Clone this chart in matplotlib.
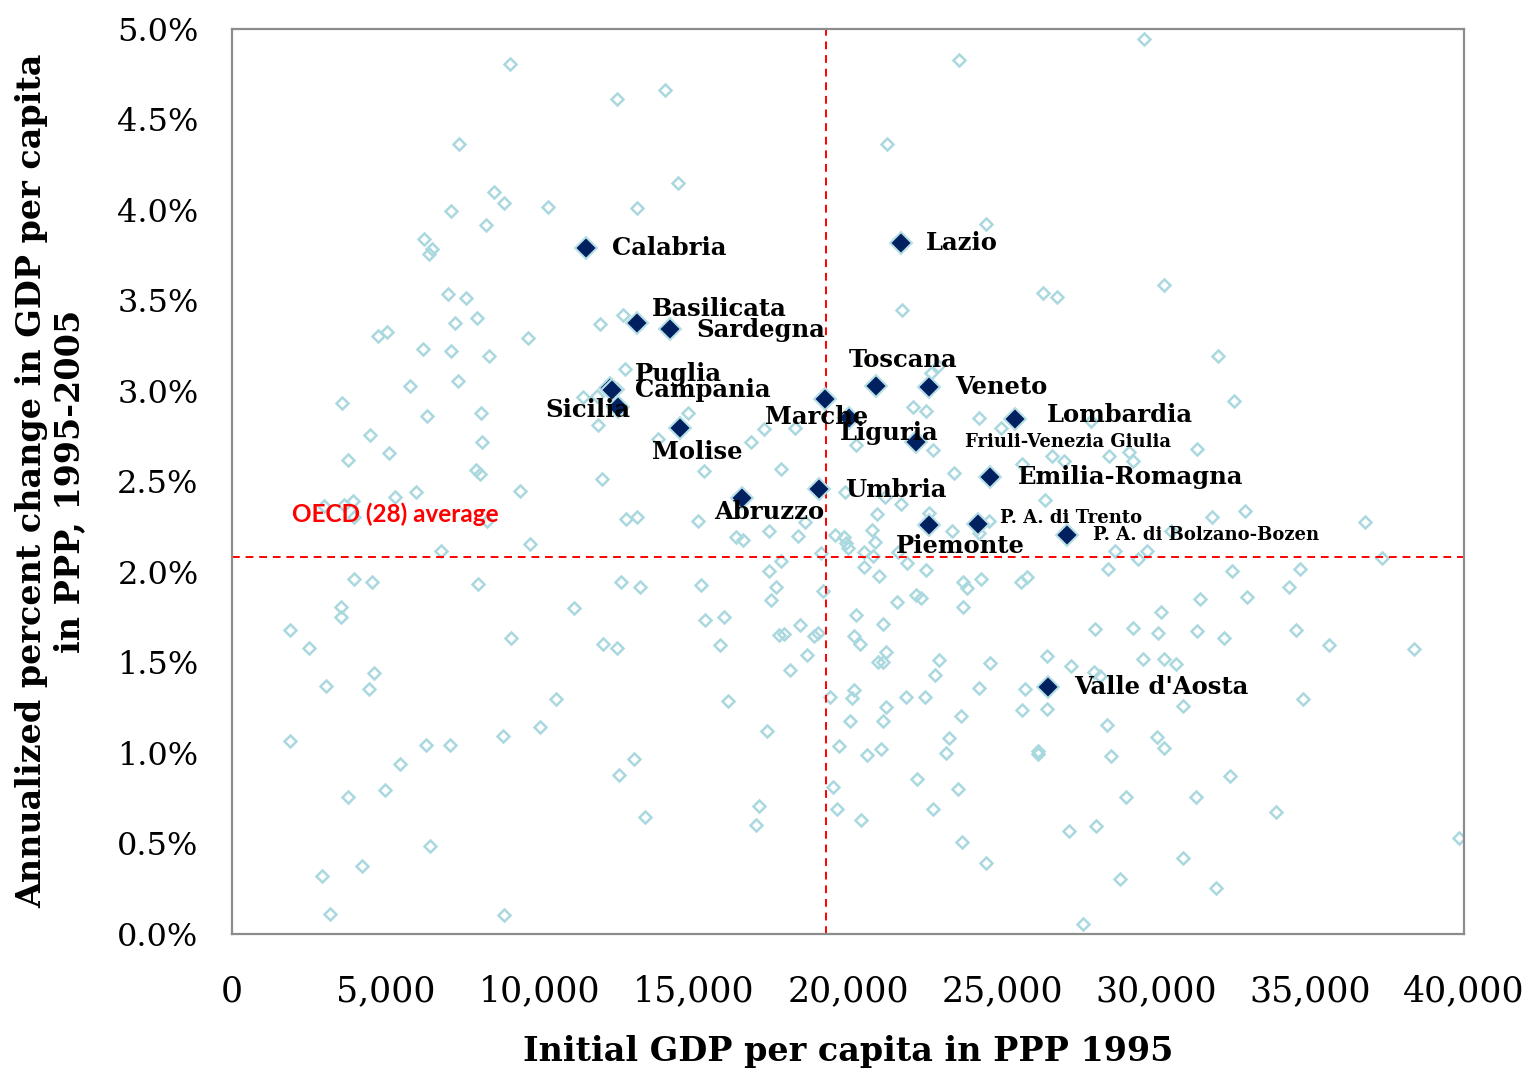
import matplotlib
matplotlib.use("Agg")
import matplotlib.pyplot as plt
from matplotlib.ticker import PercentFormatter, StrMethodFormatter

# OECD TL2 regions: initial GDP per capita (PPP, 1995) vs annual growth 1995-2005 (%)
oecd_gdp = [
    29610, 23610, 9030, 14060, 12500, 21270, 7370, 14480, 8510, 8830,
    10260, 13150, 24480, 7110, 8250, 6230, 6490, 6400, 7010, 7600,
    7240, 7960, 11950, 12700, 4740, 5030, 9610, 21760, 26330, 26790,
    30260, 6200, 7110, 8350, 12760, 5780, 7340, 11400, 11850, 12500,
    3570, 6330, 8090, 11880, 4480, 8120, 5100, 3770, 7920, 8050,
    12010, 9350, 5970, 5290, 3930, 3640, 2990, 3960, 12790, 13150,
    8280, 9680, 6790, 3960, 4550, 7990, 12630, 13250, 3540, 3540,
    11100, 1880, 9060, 22700, 22920, 22110, 22530, 24260, 24970, 14810,
    17270, 18280, 16850, 13830, 20260, 22760, 15330, 17830, 23440, 25650,
    26630, 19900, 21200, 21720, 26400, 20940, 22630, 24580, 24260, 15130,
    18610, 23380, 17440, 16370, 16590, 18380, 19580, 19870, 19940, 20000,
    20780, 20880, 20520, 20810, 21630, 19130, 17830, 17440, 20520, 21920,
    22530, 21010, 24320, 23740, 23870, 25810, 25620, 15230, 17660, 19190,
    17500, 21590, 22210, 22370, 23740, 15360, 15980, 18440, 20260, 21140,
    17760, 17920, 18900, 19030, 20200, 32020, 32540, 27890, 27020, 28480,
    29130, 29260, 31330, 32890, 31820, 36790, 30490, 28670, 29710, 29420,
    37340, 28440, 32470, 34680, 34320, 31430, 32960, 30170, 28020, 29260,
    30070, 31330, 34550, 32210, 2500, 3050, 4610, 4450, 12050, 12500,
    10520, 1880, 6300, 7080, 8800, 10000, 5460, 13050, 12570, 3770,
    4970, 13410, 6430, 2920, 4220, 3180, 8830, 15850, 18670, 18120,
    21240, 20980, 21140, 22960, 24610, 26460, 22830, 24260, 25750, 16110,
    19420, 20200, 20130, 21880, 22500, 21240, 25650, 26460, 23670, 20070,
    21140, 17370, 23280, 19710, 20620, 21070, 23180, 26170, 26170, 22240,
    23570, 19510, 17110, 17010, 19640, 20420, 22760, 23700, 24480, 20390,
    35620, 38380, 27240, 29580, 30260, 30650, 27990, 28180, 30880, 34780,
    28410, 30030, 30260, 28540, 32410, 29030, 31300, 33900, 27180, 28050,
    39840, 30880, 28830, 31950, 27630,
]
oecd_growth = [
    4.945, 4.829, 4.807, 4.663, 4.613, 4.365, 4.365, 4.149, 4.099, 4.039,
    4.017, 4.011, 3.923, 3.994, 3.917, 3.840, 3.785, 3.757, 3.536, 3.514,
    3.376, 3.403, 3.370, 3.420, 3.304, 3.326, 3.293, 3.448, 3.541, 3.519,
    3.586, 3.232, 3.221, 3.193, 3.122, 3.028, 3.055, 2.967, 2.972, 3.011,
    2.934, 2.862, 2.878, 2.812, 2.757, 2.718, 2.657, 2.619, 2.564, 2.541,
    2.514, 2.448, 2.442, 2.414, 2.392, 2.370, 2.365, 2.304, 2.293, 2.304,
    2.282, 2.155, 2.116, 1.961, 1.945, 1.934, 1.945, 1.917, 1.807, 1.751,
    1.801, 1.680, 1.635, 3.099, 3.138, 2.912, 2.890, 2.851, 2.796, 2.878,
    2.790, 2.796, 2.718, 2.735, 2.702, 2.674, 2.558, 2.569, 2.547, 2.597,
    2.641, 2.442, 2.414, 2.376, 2.398, 2.320, 2.326, 2.282, 2.215, 2.282,
    2.276, 2.227, 2.227, 2.193, 2.177, 2.199, 2.204, 2.193, 2.160, 2.133,
    2.232, 2.166, 2.110, 2.088, 2.110, 2.105, 2.061, 2.006, 2.028, 2.050,
    2.011, 1.978, 1.961, 1.945, 1.912, 1.972, 1.945, 1.928, 1.917, 1.895,
    1.845, 1.834, 1.873, 1.856, 1.807, 1.735, 1.751, 1.707, 1.762, 1.713,
    1.652, 1.657, 1.646, 1.663, 1.646, 3.193, 2.945, 2.834, 2.613, 2.641,
    2.663, 2.613, 2.680, 2.337, 2.304, 2.276, 2.227, 2.116, 2.116, 2.072,
    2.077, 2.017, 2.006, 2.017, 1.917, 1.851, 1.862, 1.779, 1.685, 1.691,
    1.663, 1.674, 1.680, 1.635, 1.580, 1.370, 1.442, 1.354, 1.602, 1.580,
    1.298, 1.066, 1.044, 1.044, 1.094, 1.144, 0.939, 0.967, 0.878, 0.757,
    0.796, 0.646, 0.486, 0.320, 0.376, 0.110, 0.105, 1.597, 1.541, 1.459,
    1.558, 1.503, 1.503, 1.514, 1.497, 1.536, 1.431, 1.359, 1.354, 1.287,
    1.309, 1.348, 1.304, 1.309, 1.309, 1.254, 1.238, 1.243, 1.204, 1.177,
    1.177, 1.122, 1.083, 1.039, 0.989, 1.022, 1.000, 1.011, 0.994, 0.856,
    0.801, 0.812, 0.707, 0.602, 0.691, 0.630, 0.691, 0.508, 0.392, 1.602,
    1.597, 1.575, 1.481, 1.519, 1.519, 1.492, 1.448, 1.425, 1.260, 1.298,
    1.155, 1.088, 1.028, 0.983, 0.873, 0.757, 0.757, 0.674, 0.569, 0.597,
    0.530, 0.420, 0.304, 0.254, 0.055,
]

# Italian regions
regions = [
    "Calabria", "Basilicata", "Sardegna", "Lazio", "Puglia", "Campania",
    "Sicilia", "Molise", "Marche", "Liguria", "Toscana", "Veneto",
    "Friuli-Venezia Giulia", "Lombardia", "Emilia-Romagna", "Umbria",
    "Abruzzo", "Piemonte", "P. A. di Trento", "P. A. di Bolzano-Bozen",
    "Valle d'Aosta",
]
ita_gdp = [11490, 13150, 14220, 21720, 12270, 12340, 12530, 14550, 19260,
           20030, 20910, 22630, 22210, 25420, 24610, 19060, 16560, 22630,
           24220, 27110, 26490]
ita_growth = [3.790, 3.376, 3.343, 3.818, 3.017, 3.006, 2.912, 2.796, 2.956,
              2.851, 3.028, 3.022, 2.718, 2.845, 2.525, 2.459, 2.409, 2.260,
              2.265, 2.204, 1.365]

oecd_avg_gdp = 19290
oecd_avg_growth = 2.08

# label placement: (dx, dy) in pixels, horizontal alignment, font size
label_style = {
    "Calabria": (26, 0, "left", 17.5),
    "Basilicata": (15, 14, "left", 17.5),
    "Sardegna": (26, -1, "left", 17.5),
    "Lazio": (25, 0, "left", 17.5),
    "Puglia": (25, 14, "left", 17.5),
    "Campania": (23, 0, "left", 17.5),
    "Sicilia": (12, -3, "right", 17.5),
    "Molise": (-28, -24, "left", 17.5),
    "Marche": (-60, -18, "left", 17.5),
    "Liguria": (-9, -15, "left", 17.5),
    "Toscana": (-27, 26, "left", 17.5),
    "Veneto": (26, 0, "left", 17.5),
    "Friuli-Venezia Giulia": (49, 0, "left", 13),
    "Lombardia": (32, 4, "left", 17.5),
    "Emilia-Romagna": (28, 0, "left", 17.5),
    "Umbria": (26, -1, "left", 17.5),
    "Abruzzo": (-28, -14, "left", 17.5),
    "Piemonte": (-33, -21, "left", 17.5),
    "P. A. di Trento": (22, 6, "left", 13),
    "P. A. di Bolzano-Bozen": (26, 0, "left", 13),
    "Valle d'Aosta": (26, 0, "left", 17.5),
}

fig = plt.figure(figsize=(15.38, 10.81), dpi=100)
ax = fig.add_axes([0.1508, 0.136, 0.8011, 0.8372])

ax.plot(oecd_gdp, oecd_growth, linestyle="none", marker="D", markersize=6,
        markerfacecolor="none", markeredgecolor="#a9d9df", markeredgewidth=1.8)
ax.plot(ita_gdp, ita_growth, linestyle="none", marker="D", markersize=11,
        markerfacecolor="#002060", markeredgecolor="#b7dfe4", markeredgewidth=1.5,
        zorder=4)

ax.axvline(oecd_avg_gdp, color="#ff0000", linestyle=(0, (4, 3)), linewidth=1.4)
ax.axhline(oecd_avg_growth, color="#ff0000", linestyle=(0, (4, 3)), linewidth=1.4)

for name, gx, gy in zip(regions, ita_gdp, ita_growth):
    dx, dy, ha, fs = label_style[name]
    ax.annotate(name, (gx, gy), xytext=(dx, dy), textcoords="offset pixels",
                ha=ha, va="center", fontsize=fs, fontweight="bold",
                family="DejaVu Serif", color="black", zorder=5)

ax.text(5290, 2.32, "OECD (28) average", color="#ff0000", fontsize=17.5,
        fontweight="bold", family="Lato", ha="center", va="center")

ax.set_xlim(0, 40000)
ax.set_ylim(0, 5.0)
ax.set_xticks(range(0, 40001, 5000))
ax.set_yticks([i * 0.5 for i in range(11)])
ax.xaxis.set_major_formatter(StrMethodFormatter("{x:,.0f}"))
ax.yaxis.set_major_formatter(PercentFormatter(100, decimals=1))
ax.tick_params(axis="both", length=0)
ax.tick_params(axis="x", pad=29, labelsize=25)
ax.tick_params(axis="y", pad=24, labelsize=23)
for lab in ax.get_xticklabels() + ax.get_yticklabels():
    lab.set_family("DejaVu Serif")

for sp in ax.spines.values():
    sp.set_color("#8c8c8c")
    sp.set_linewidth(1.6)

fig.text(848 / 1538, 1 - 1052 / 1081, "Initial GDP per capita in PPP 1995",
         ha="center", va="center", fontsize=24, fontweight="bold",
         family="DejaVu Serif")
fig.text(51 / 1538, 1 - 481 / 1081,
         "Annualized percent change in GDP per capita\nin PPP, 1995-2005",
         ha="center", va="center", rotation=90, fontsize=24,
         fontweight="bold", family="DejaVu Serif", linespacing=1.2,
         multialignment="center")

fig.savefig("out.png", dpi=100)
